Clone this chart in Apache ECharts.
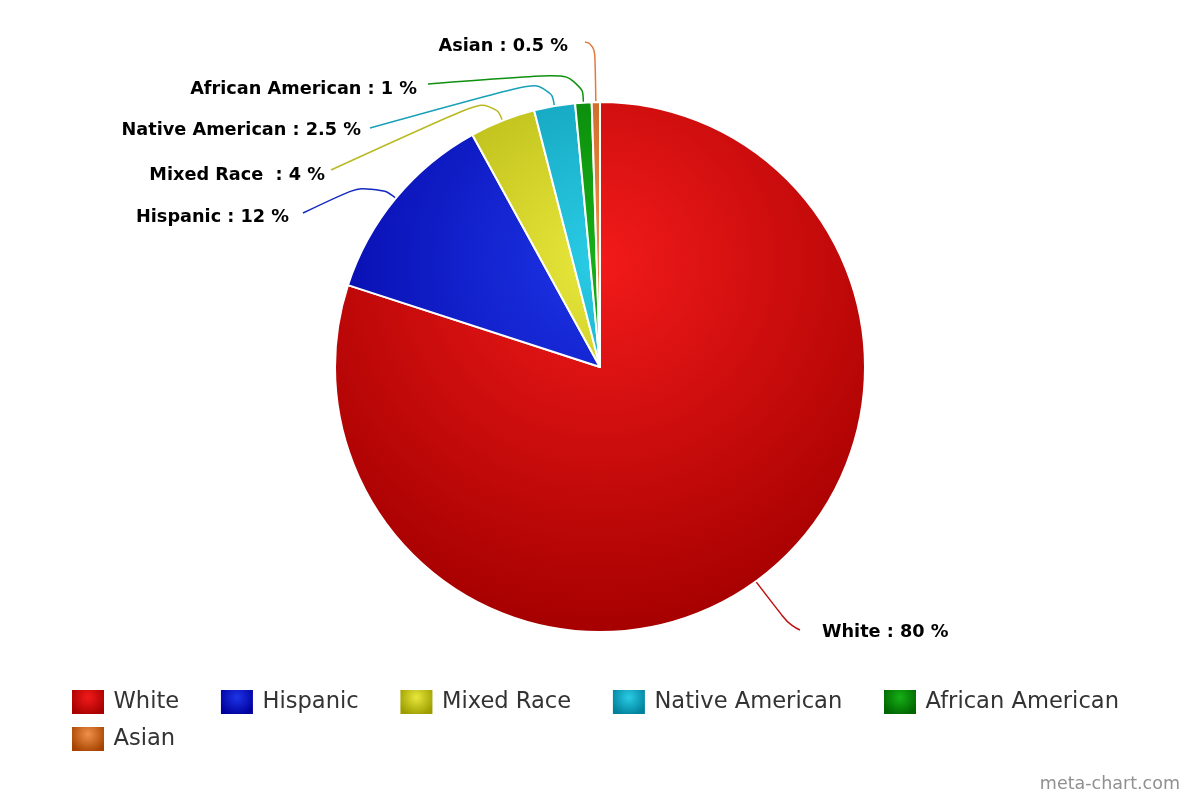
<!DOCTYPE html>
<html><head><meta charset="utf-8">
<script src="https://cdn.jsdelivr.net/npm/echarts@6/dist/echarts.min.js"></script>
<style>html,body{margin:0;padding:0;background:#fff}#c{width:1200px;height:800px}</style>
</head><body><div id="c"></div>
<script>
// ---- data ----
const categories = ['White', 'Hispanic', 'Mixed Race ', 'Native American', 'African American', 'Asian'];
const values = [80, 12, 4, 2.5, 1, 0.5];

// ---- styles ----
const baseColors = ['#f21a1a', '#1d35e8', '#e8e83c', '#2acce6', '#16b016', '#f0904a'];
const darkColors = ['#a60000', '#00009c', '#9c9c00', '#00809a', '#006400', '#a44400'];
const lineColors = ['#c01010', '#1428c0', '#b8b820', '#18a0b8', '#0f900f', '#e07a40'];
const CX = 600, CY = 367, R = 265;

// label placement (layout only)
const labelSpots = [
  {x: 822, y: 632, align: 'left',  end: [800, 630], mid: [790, 626]},
  {x: 289, y: 217, align: 'right', end: [303, 213], mid: [372, 180]},
  {x: 325, y: 175, align: 'right', end: [331, 170], mid: [493, 96]},
  {x: 361, y: 130, align: 'right', end: [370, 128], mid: [550, 78]},
  {x: 417, y: 89,  align: 'right', end: [428, 84],  mid: [583, 72]},
  {x: 568, y: 46,  align: 'right', end: [585, 42],  mid: [595, 44]}
];

function globalGrad(i) {
  return {type: 'radial', x: CX, y: CY - 0.2 * 2 * R, r: 0.7 * 2 * R, global: true,
    colorStops: [{offset: 0, color: baseColors[i]}, {offset: 1, color: darkColors[i]}]};
}
function localGrad(i) {
  return {type: 'radial', x: 0.5, y: 0.3, r: 0.8,
    colorStops: [{offset: 0, color: baseColors[i]}, {offset: 1, color: darkColors[i]}]};
}

const chart = echarts.init(document.getElementById('c'), null, {renderer: 'canvas'});
chart.setOption({
  animation: false,
  backgroundColor: '#fff',
  legend: {
    left: 72, top: 690, width: 1100, padding: 0,
    itemWidth: 32, itemHeight: 24, itemGap: 13, icon: 'rect',
    textStyle: {fontFamily: 'DejaVu Sans', fontSize: 22.6, color: '#333333'},
    formatter: n => '\u2009' + n.trim() + '    ',
    data: categories.map((n, i) => ({name: n, itemStyle: {color: localGrad(i), borderWidth: 0}}))
  },
  graphic: [{
    type: 'text', right: 20, bottom: 7,
    style: {text: 'meta-chart.com', fill: '#909090', font: '17.5px "DejaVu Sans"'}
  }],
  series: [{
    type: 'pie',
    center: [CX, CY],
    radius: R,
    startAngle: 90,
    clockwise: true,
    avoidLabelOverlap: false,
    itemStyle: {borderColor: '#ffffff', borderWidth: 2},
    label: {
      show: true, position: 'outside',
      formatter: '{b} : {c} %',
      fontFamily: 'DejaVu Sans', fontWeight: 'bold', fontSize: 17.7, color: '#000000'
    },
    labelLine: {show: true, length: 25, length2: 10, smooth: 0.6, lineStyle: {width: 1.5}},
    emphasis: {disabled: true},
    labelLayout: function (p) {
      const s = labelSpots[p.dataIndex];
      const a = (p.labelLinePoints && p.labelLinePoints[0]) || s.mid;
      return {x: s.x, y: s.y, align: s.align, verticalAlign: 'middle',
        labelLinePoints: [[a[0], a[1]], s.mid.slice(), s.end.slice()]};
    },
    data: categories.map((n, i) => ({
      name: n, value: values[i],
      itemStyle: {color: globalGrad(i)},
      labelLine: {lineStyle: {color: lineColors[i]}}
    }))
  }]
});
</script>
</body></html>
